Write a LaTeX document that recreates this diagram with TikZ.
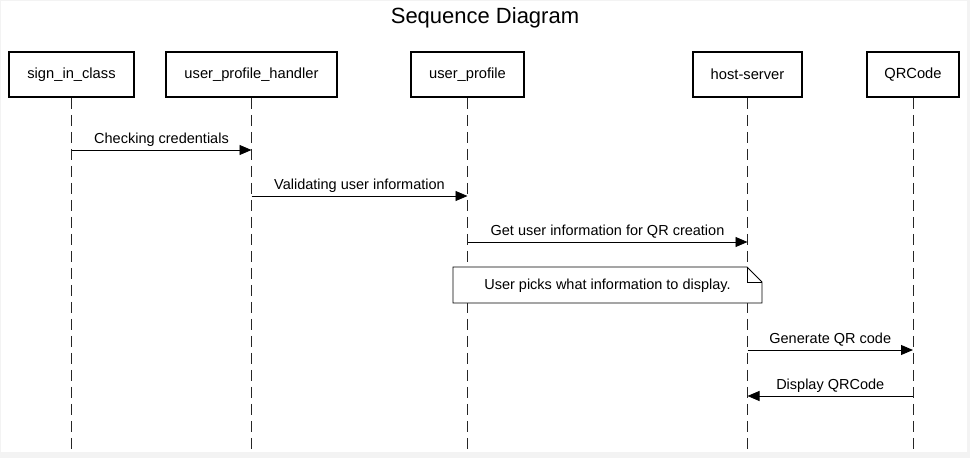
\documentclass[tikz,border=0pt]{standalone}
\usepackage{fontspec}
\setmainfont{Liberation Sans}
\usetikzlibrary{arrows.meta}
\definecolor{edgegrey}{HTML}{F3F3F3}
\tikzset{
  x=1pt, y=-1pt,
  actor/.style={draw=black, line width=1.6pt, fill=white, minimum height=45pt, inner sep=0pt, font=\fontsize{14.7}{17}\selectfont},
  lifeline/.style={draw=black!85, line width=1pt, dash pattern=on 11pt off 6pt},
  msg/.style={draw=black, line width=0.9pt, -{Triangle[length=12pt,width=10pt]}},
  msglabel/.style={font=\fontsize{14.5}{17}\selectfont, inner sep=0pt},
  notebox/.style={draw=black, line width=0.9pt, fill=white}
}
\begin{document}
\begin{tikzpicture}
\useasboundingbox (0,0) rectangle (970,458);
\fill[edgegrey] (0,0) rectangle (970,458);
\fill[white] (1,1) rectangle (967,452);
\node[font=\fontsize{22}{26}\selectfont] (title) at (485,18) {Sequence Diagram};
% actors
\node[actor, minimum width=125pt] (a1) at (71.5,74.5) {sign\_in\_class};
\node[actor, minimum width=171pt] (a2) at (251.5,74.5) {user\_profile\_handler};
\node[actor, minimum width=113pt] (a3) at (467.5,74.5) {user\_profile};
\node[actor, minimum width=109pt] (a4) at (747.5,74.5) {host-server};
\node[actor, minimum width=92pt] (a5) at (913,74.5) {QRCode};
% lifeline ends
\coordinate (e1) at (71.5,452);
\coordinate (e2) at (251.5,452);
\coordinate (e3) at (467.5,452);
\coordinate (e4) at (747.5,452);
\coordinate (e5) at (913,452);
\draw[lifeline] (a1.south) -- (e1);
\draw[lifeline] (a2.south) -- (e2);
\draw[lifeline] (a3.south) -- (e3);
\draw[lifeline] (a4.south) -- (e4);
\draw[lifeline] (a5.south) -- (e5);
% messages
\coordinate (m1s) at (71.5,150); \coordinate (m1e) at (251.5,150);
\draw[msg] (m1s) -- node[msglabel, above=3.5pt] (l1) {Checking credentials} (m1e);
\coordinate (m2s) at (251.5,196); \coordinate (m2e) at (467.5,196);
\draw[msg] (m2s) -- node[msglabel, above=3.5pt] (l2) {Validating user information} (m2e);
\coordinate (m3s) at (467.5,242); \coordinate (m3e) at (747.5,242);
\draw[msg] (m3s) -- node[msglabel, above=3.5pt] (l3) {Get user information for QR creation} (m3e);
% note
\draw[notebox] (453,267) -- (747,267) -- (762,282) -- (762,303) -- (453,303) -- cycle;
\draw[line width=0.9pt] (747,267) -- (747,282) -- (762,282);
\node[msglabel] (note) at (607.5,285.5) {User picks what information to display.};
\coordinate (m4s) at (747.5,350); \coordinate (m4e) at (913,350);
\draw[msg] (m4s) -- node[msglabel, above=3.5pt] (l4) {Generate QR code} (m4e);
\coordinate (m5s) at (913,396); \coordinate (m5e) at (747.5,396);
\draw[msg] (m5s) -- node[msglabel, above=3.5pt] (l5) {Display QRCode} (m5e);
\end{tikzpicture}
\end{document}
